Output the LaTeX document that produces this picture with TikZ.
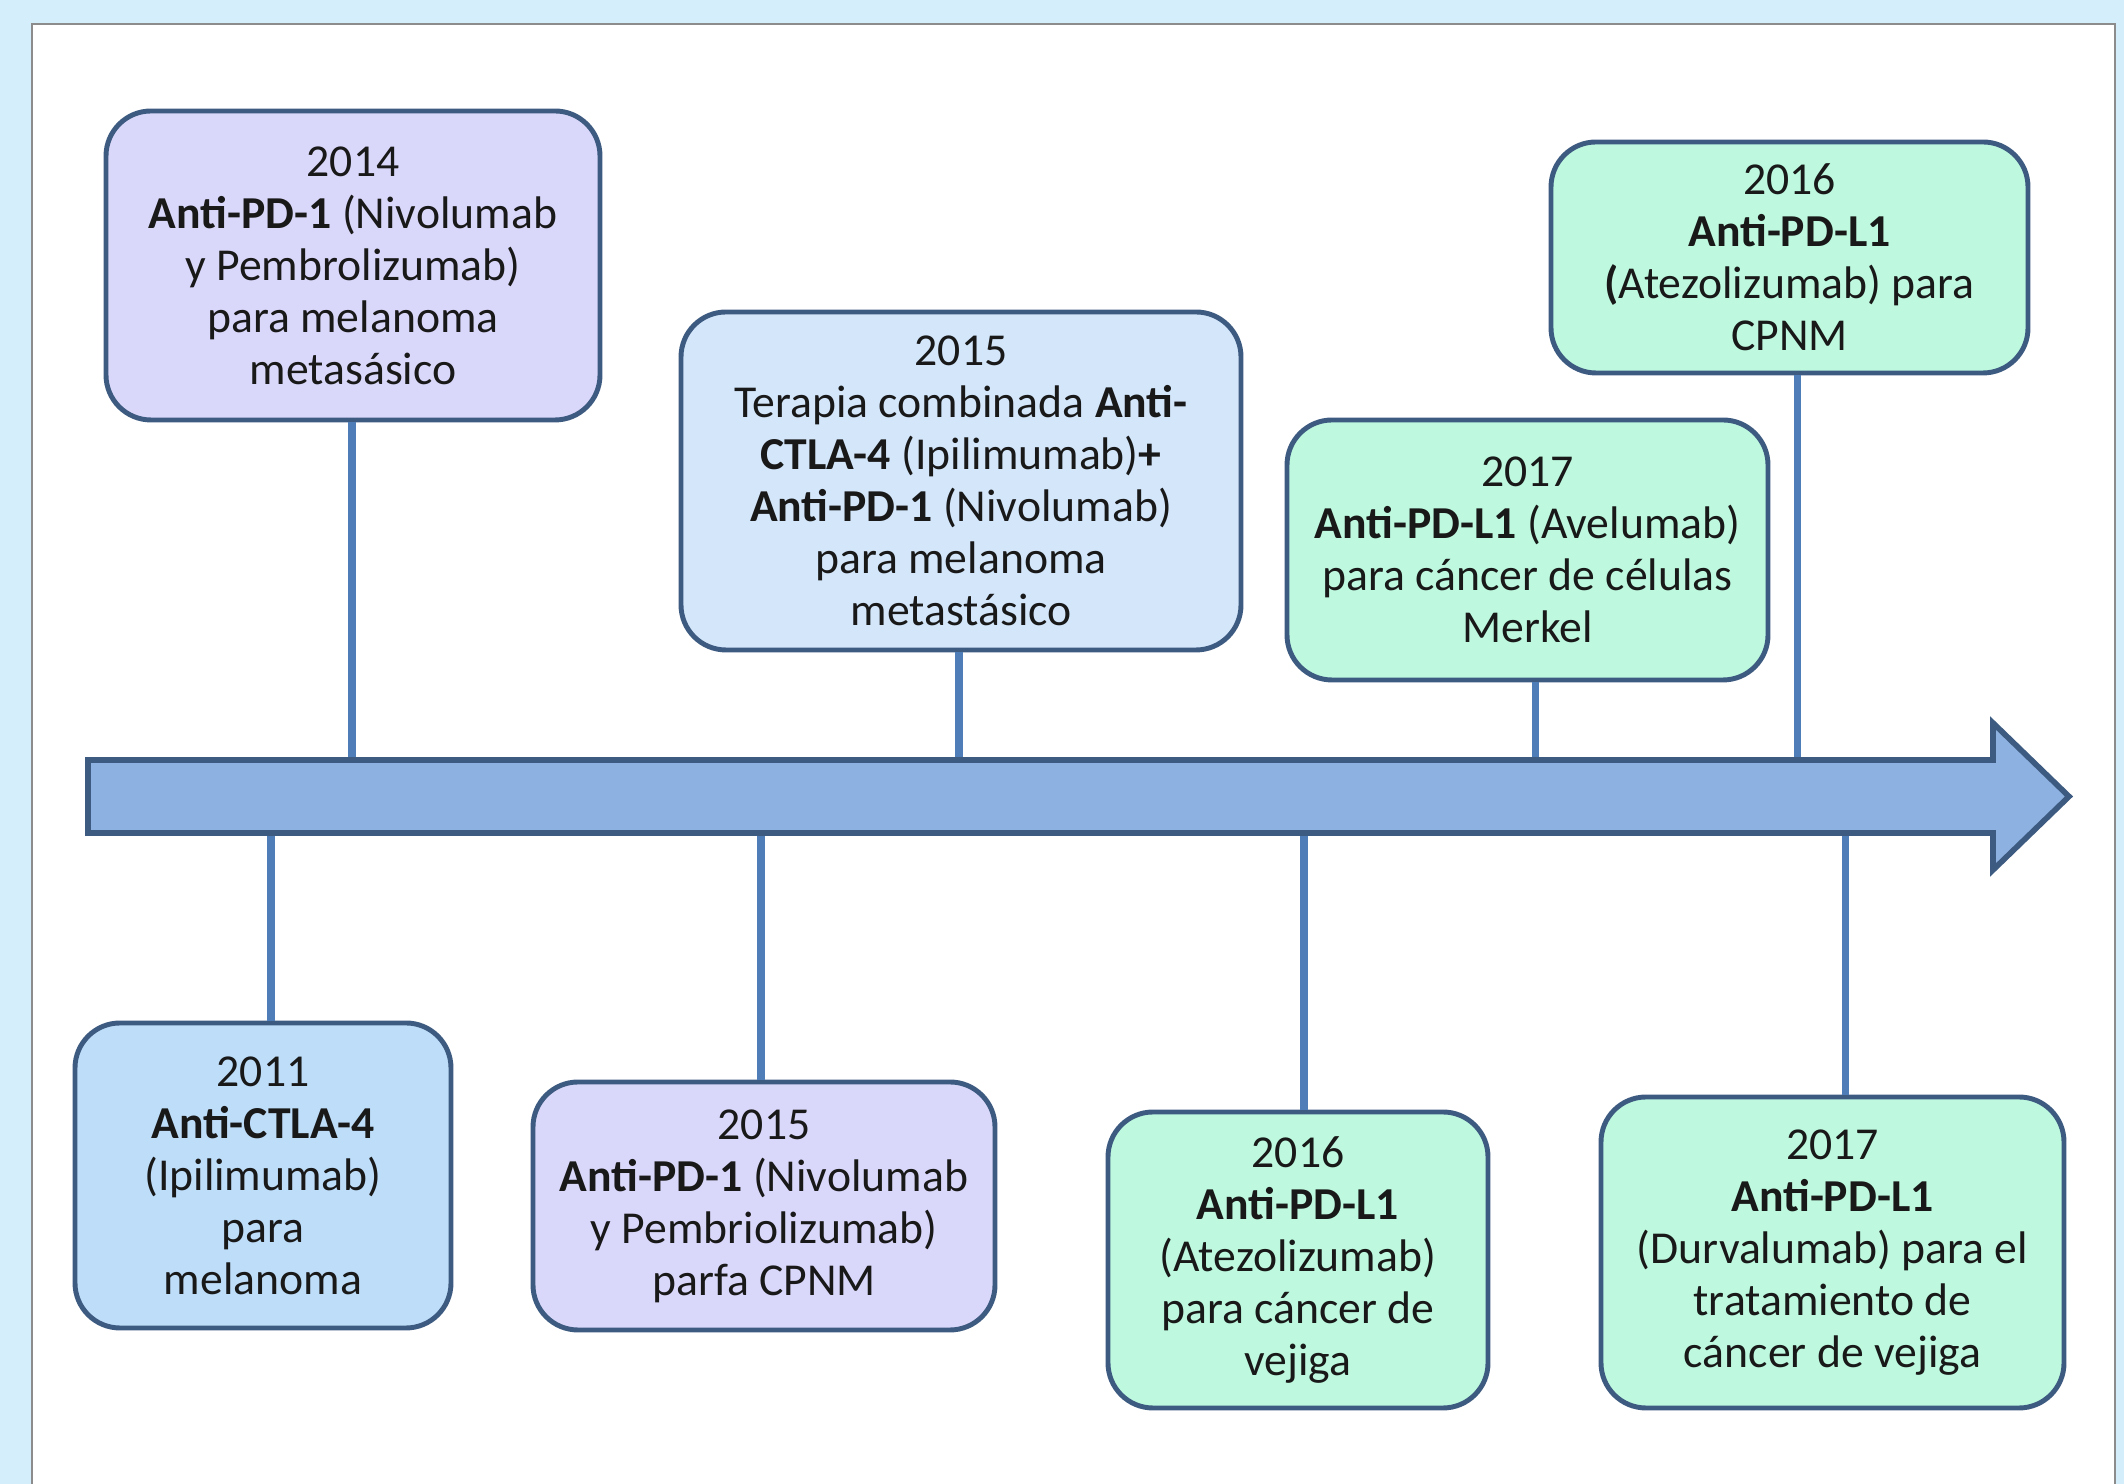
\documentclass[tikz,border=0pt]{standalone}
\usepackage{fontspec}
\setmainfont{Carlito}
\usepackage{tikz}

\definecolor{bgblue}{HTML}{D5EEFB}
\definecolor{framegrey}{HTML}{8C8C8C}
\definecolor{boxline}{HTML}{3D5A80}
\definecolor{linkblue}{HTML}{4F7DB8}
\definecolor{shaftfill}{HTML}{8DB1E0}
\definecolor{lavender}{HTML}{DAD8FA}
\definecolor{paleblue}{HTML}{D3E6FA}
\definecolor{skyblue}{HTML}{BEDDF9}
\definecolor{mint}{HTML}{BDF8DF}

\begin{document}
\begin{tikzpicture}[
  event/.style={draw=boxline,line width=1.4pt,rounded corners=0.45cm,align=center,
    inner sep=0pt,text=black!90,font=\fontsize{13}{14.8}\selectfont},
  link/.style={draw=linkblue,line width=2pt}
]
\useasboundingbox (0,0) rectangle (21.24,14.84);
\fill[bgblue] (0,0) rectangle (21.24,14.84);
\draw[framegrey,fill=white,line width=0.8pt] (0.32,-0.2) rectangle (21.15,14.60);

% boxes above the time line
\node[event,fill=lavender,minimum width=4.94cm,minimum height=3.09cm] (b2014) at (3.53,12.185)
  {2014\\ \textbf{Anti-PD-1} (Nivolumab\\ y Pembrolizumab)\\ para melanoma\\ metasásico};
\node[event,fill=paleblue,minimum width=5.60cm,minimum height=3.38cm] (b2015a) at (9.61,10.03)
  {2015\\ Terapia combinada \textbf{Anti-}\\ \textbf{CTLA-4} (Ipilimumab)\textbf{+}\\ \textbf{Anti-PD-1} (Nivolumab)\\ para melanoma\\ metastásico};
\node[event,fill=mint,minimum width=4.81cm,minimum height=2.60cm] (b2017a) at (15.275,9.34)
  {2017\\ \textbf{Anti-PD-L1} (Avelumab)\\ para cáncer de células\\ Merkel};
\node[event,fill=mint,minimum width=4.77cm,minimum height=2.31cm] (b2016a) at (17.895,12.265)
  {2016\\ \textbf{Anti-PD-L1}\\ \textbf{(}Atezolizumab) para\\ CPNM};

% boxes below the time line
\node[event,fill=skyblue,minimum width=3.76cm,minimum height=3.05cm] (b2011) at (2.63,3.085)
  {2011\\ \textbf{Anti-CTLA-4}\\ (Ipilimumab)\\ para\\ melanoma};
\node[event,fill=lavender,minimum width=4.62cm,minimum height=2.48cm] (b2015b) at (7.64,2.78)
  {2015\\ \textbf{Anti-PD-1} (Nivolumab\\ y Pembriolizumab)\\ parfa CPNM};
\node[event,fill=mint,minimum width=3.80cm,minimum height=2.96cm] (b2016b) at (12.98,2.24)
  {2016\\ \textbf{Anti-PD-L1}\\ (Atezolizumab)\\ para cáncer de\\ vejiga};
\node[event,fill=mint,minimum width=4.63cm,minimum height=3.11cm] (b2017b) at (18.325,2.315)
  {2017\\ \textbf{Anti-PD-L1}\\ (Durvalumab) para el\\ tratamiento de\\ cáncer de vejiga};

\coordinate (t2014) at (3.52,7.24);
\coordinate (t2015a) at (9.59,7.24);
\coordinate (t2017a) at (15.35,7.24);
\coordinate (t2016a) at (17.97,7.24);
\coordinate (t2011) at (2.71,6.51);
\coordinate (t2015b) at (7.61,6.51);
\coordinate (t2016b) at (13.04,6.51);
\coordinate (t2017b) at (18.45,6.51);

\foreach \t/\b in {t2014/b2014,t2015a/b2015a,t2017a/b2017a,t2016a/b2016a}
  \draw[link] (\t) -- (\t |- \b.south);
\foreach \t/\b in {t2011/b2011,t2015b/b2015b,t2016b/b2016b,t2017b/b2017b}
  \draw[link] (\t) -- (\t |- \b.north);

% time line
\draw[boxline,fill=shaftfill,line width=1.6pt,line join=miter]
  (0.88,7.24) -- (19.93,7.24) -- (19.93,7.61) -- (20.69,6.875)
  -- (19.93,6.14) -- (19.93,6.51) -- (0.88,6.51) -- cycle;
\end{tikzpicture}
\end{document}
